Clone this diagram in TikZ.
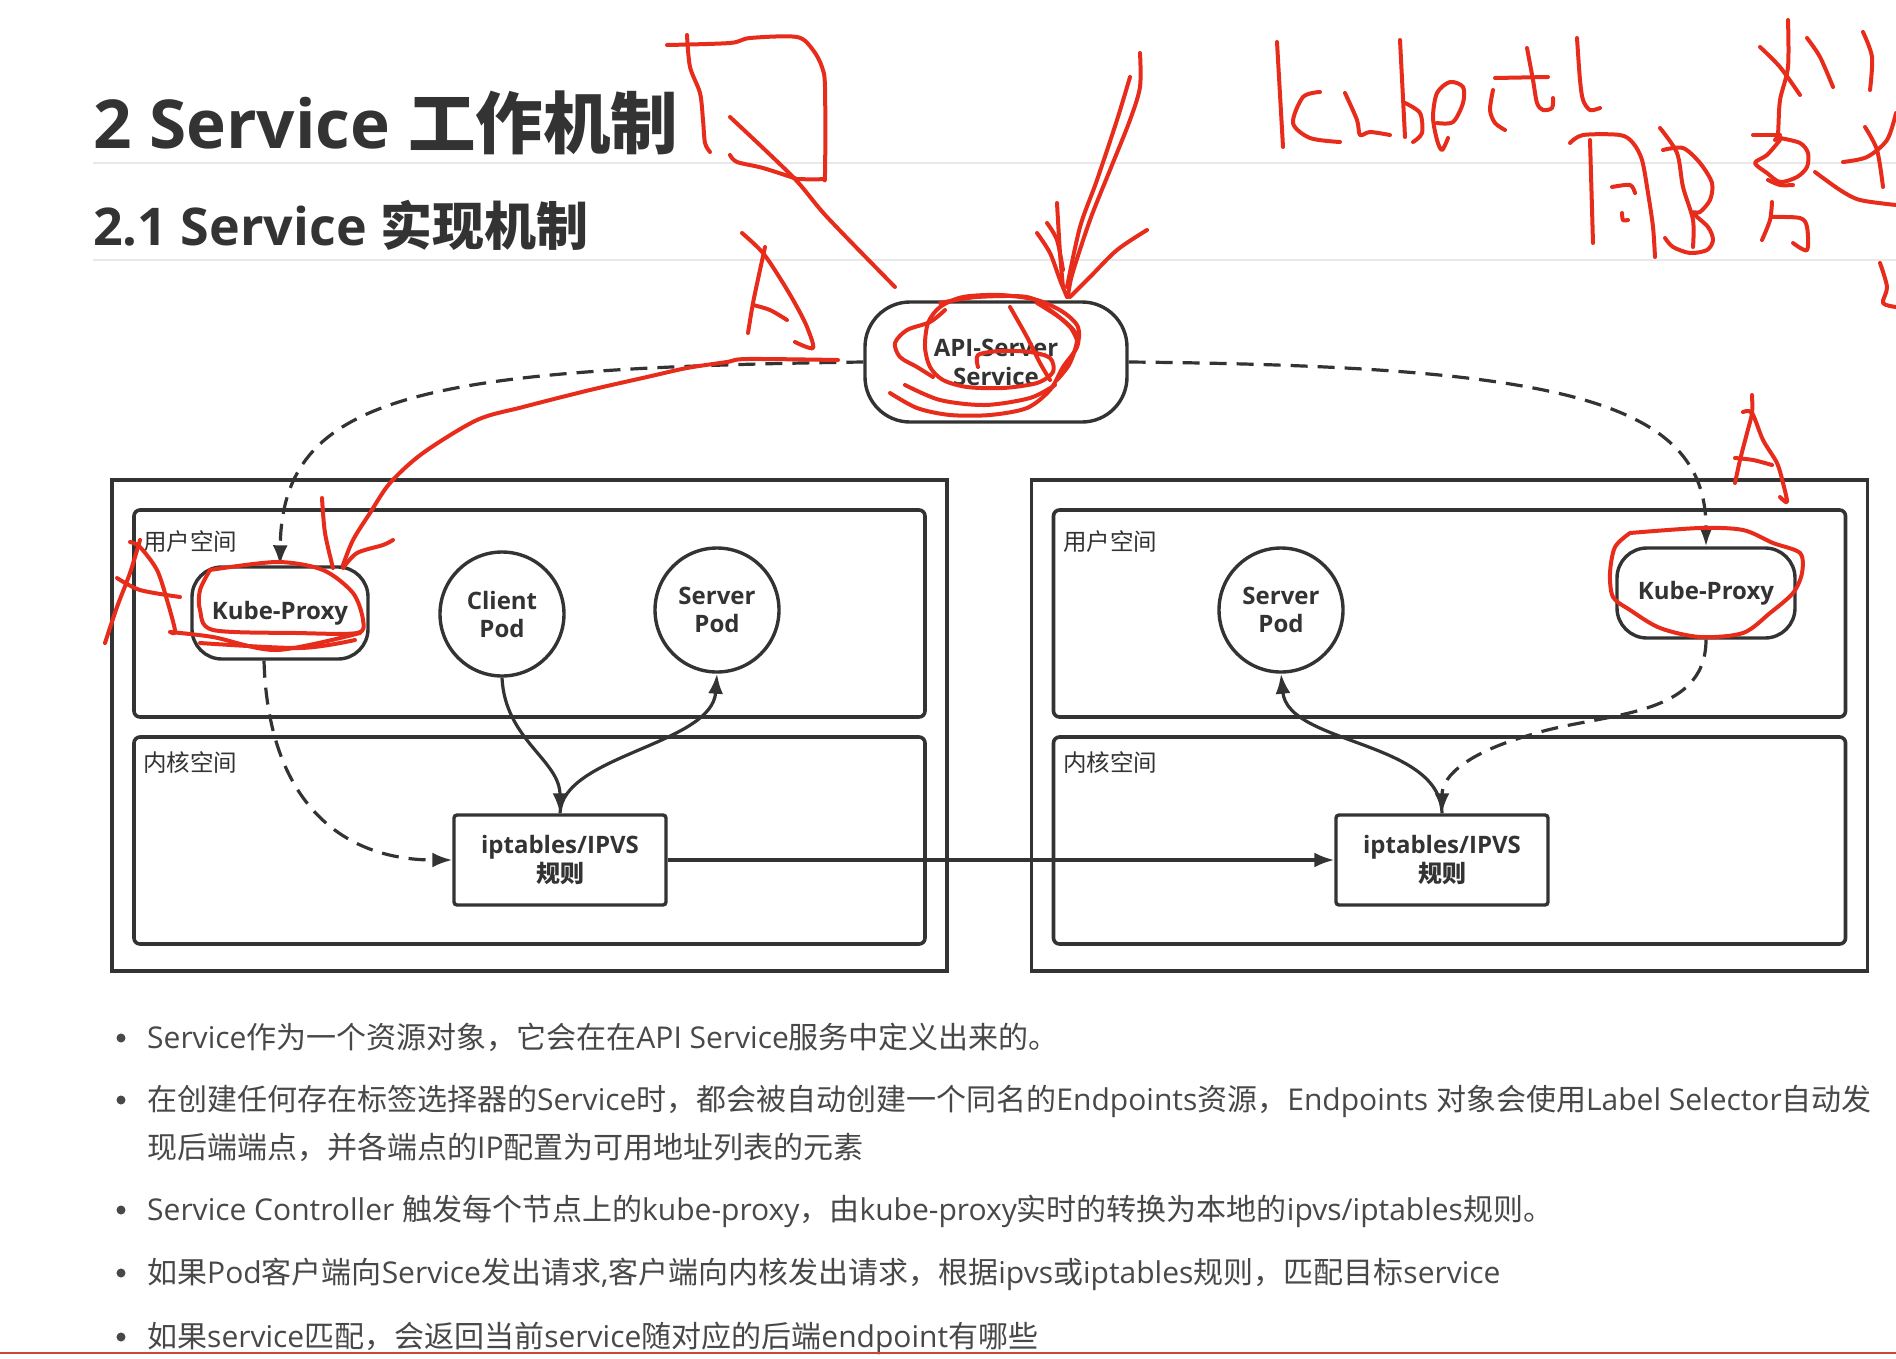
\documentclass[tikz,border=0pt]{standalone}
\usepackage{fontspec}
\setmainfont{Open Sans}
\newfontfamily\cjkfont{Noto Sans CJK SC}
\usetikzlibrary{arrows.meta}
\newcommand\zh[1]{{\cjkfont #1}}
\definecolor{inkred}{RGB}{232,44,28}
\definecolor{dk}{RGB}{51,51,51}
\definecolor{txt}{RGB}{72,72,72}
\definecolor{rule}{RGB}{232,232,232}
\definecolor{botline}{RGB}{200,70,60}
\tikzset{
  panel/.style={draw=dk, line width=3.6pt, inner sep=0pt, outer sep=0pt},
  pod/.style={circle, draw=dk, line width=3.4pt, minimum size=124pt, inner sep=0pt, align=center,
    font=\fontsize{24}{28}\selectfont\bfseries, text=dk},
  proc/.style={draw=dk, line width=3.4pt, align=center, inner sep=0pt,
    font=\fontsize{24}{29}\selectfont\bfseries, text=dk},
  rulebox/.style={draw=dk, line width=3.4pt, rounded corners=3pt, minimum width=212pt, minimum height=90pt,
    inner sep=0pt, align=center, font=\fontsize{24}{29}\selectfont\bfseries, text=dk},
  conn/.style={draw=dk, line width=3.2pt, -{Latex[length=20pt,width=15pt]}},
  dconn/.style={conn, dash pattern=on 17pt off 10pt},
  spacelbl/.style={font=\cjkfont\fontsize{23.5}{28}\selectfont, text=dk, anchor=west, inner sep=0pt},
  bullettext/.style={font=\fontsize{30}{36}\selectfont, text=txt, anchor=base west, inner sep=0pt},
  redink/.style={draw=inkred, line width=4pt, line cap=round, line join=round},
}
\newcommand\ink[1]{\draw[redink] plot[smooth, tension=0.5] coordinates {#1};}
\begin{document}
\begin{tikzpicture}[x=1pt,y=-1pt]
\useasboundingbox[fill=white] (0,0) rectangle (1896,1358);

% ---------- titles ----------
\node[anchor=base west, inner sep=0pt, text=dk, font=\fontsize{67.5}{80}\selectfont\bfseries] (t1) at (93,148) {2 Service \zh{工作机制}};
\draw[rule, line width=1.5pt] (93,163) -- (1896,163);
\node[anchor=base west, inner sep=0pt, text=dk, font=\fontsize{52}{62}\selectfont\bfseries] (t2) at (93,245) {2.1 Service \zh{实现机制}};
\draw[rule, line width=1.5pt] (93,260) -- (1896,260);

% ---------- panels ----------
\node[panel, minimum width=835pt, minimum height=491pt] (lout) at (529.5,725.5) {};
\node[panel, rounded corners=6pt, minimum width=791pt, minimum height=207pt] (luser) at (529.5,613.5) {};
\node[panel, rounded corners=6pt, minimum width=791pt, minimum height=207pt] (lkern) at (529.5,840.5) {};
\node[panel, minimum width=836pt, minimum height=491pt] (rout) at (1449.5,725.5) {};
\node[panel, rounded corners=6pt, minimum width=792pt, minimum height=207pt] (ruser) at (1449.5,613.5) {};
\node[panel, rounded corners=6pt, minimum width=792pt, minimum height=207pt] (rkern) at (1449.5,840.5) {};

\node[spacelbl] (lul) at (143,542) {用户空间};
\node[spacelbl] (lkl) at (143,763) {内核空间};
\node[spacelbl] (rul) at (1063,542) {用户空间};
\node[spacelbl] (rkl) at (1063,763) {内核空间};

% ---------- nodes ----------
\node[proc, rounded corners=45pt, minimum width=262pt, minimum height=120pt] (api) at (996,362) {API-Server\\Service};
\node[proc, rounded corners=30pt, minimum width=176pt, minimum height=92pt] (lkp) at (280,613) {Kube-Proxy};
\node[pod] (cp) at (502,614) {Client\\Pod};
\node[pod] (sp) at (717,610) {Server\\Pod};
\node[rulebox] (lip) at (560,860) {iptables/IPVS\\\zh{规则}};
\node[pod] (rsp) at (1281,610) {Server\\Pod};
\node[proc, rounded corners=30pt, minimum width=178pt, minimum height=90pt] (rkp) at (1706,593) {Kube-Proxy};
\node[rulebox] (rip) at (1442,860) {iptables/IPVS\\\zh{规则}};

% ---------- connectors ----------
\draw[dconn] (api.west) .. controls (420,368) and (282,395) .. (lkp.north);
\draw[dconn] (api.east) .. controls (1560,366) and (1706,400) .. (rkp.north);
\draw[dconn] ([xshift=-16pt]lkp.south) .. controls (268,800) and (340,860) .. (lip.west);
\draw[conn] (cp.south) .. controls (505,740) and (560,760) .. (lip.north);
\draw[conn] (lip.north) .. controls (562,755) and (712,745) .. (sp.south);
\draw[conn] (lip.east) -- (rip.west);
\draw[conn] (rip.north) .. controls (1440,740) and (1288,745) .. (rsp.south);
\draw[dconn] (rkp.south) .. controls (1706,720) and (1600,712) .. (1530,735) .. controls (1470,752) and (1442,775) .. (rip.north);

% ---------- bullets ----------
\foreach \yy in {1038,1100,1210,1273,1337} { \fill[txt] (121,\yy) circle (4.5pt); }
\node[bullettext] (b1) at (147,1048) {Service\zh{作为一个资源对象，它会在在}API Service\zh{服务中定义出来的。}};
\node[bullettext] (b2) at (147,1110) {\zh{在创建任何存在标签选择器的}Service\zh{时，都会被自动创建一个同名的}Endpoints\zh{资源，}Endpoints \zh{对象会使用}Label Selector\zh{自动发}};
\node[bullettext] (b2b) at (147,1158) {\zh{现后端端点，并各端点的}IP\zh{配置为可用地址列表的元素}};
\node[bullettext] (b3) at (147,1220) {Service Controller \zh{触发每个节点上的}kube-proxy\zh{，由}kube-proxy\zh{实时的转换为本地的}ipvs/iptables\zh{规则。}};
\node[bullettext] (b4) at (147,1283) {\zh{如果}Pod\zh{客户端向}Service\zh{发出请求}{,}\zh{客户端向内核发出请求，根据}ipvs\zh{或}iptables\zh{规则，匹配目标}service};
\node[bullettext] (b5) at (147,1347) {\zh{如果}service\zh{匹配，会返回当前}service\zh{随对应的后端}endpoint\zh{有哪些}};
\draw[botline, line width=2pt] (0,1353) -- (1896,1353);

% ---------- red handwriting ----------
% box and diagonal near title
\ink{(667,45) (730,43) (750,38) (797,37) (813,50) (822,67) (825,87) (825,173) (822,179) (797,179)}
\ink{(687,35) (690,67) (700,93) (703,120) (705,143) (710,152)}
\ink{(730,155) (737,162) (763,168) (797,179)}
\ink{(730,117) (793,177) (827,217) (895,287)}
% A near API
\ink{(748,333) (753,303) (760,270) (765,247)}
\ink{(742,233) (763,253) (783,283) (797,307) (807,327) (813,348) (795,342)}
\ink{(753,305) (770,310) (787,320)}
% arrow down into API
\ink{(1140,53) (1140,87) (1130,120) (1110,170) (1090,220) (1072,275) (1068,297)}
\ink{(1130,77) (1117,120) (1097,180) (1080,227) (1067,287)}
\ink{(1037,233) (1050,253) (1060,280) (1067,297)}
\ink{(1047,223) (1057,240) (1063,270)}
\ink{(1057,203) (1060,253) (1063,287)}
\ink{(1147,230) (1117,250) (1090,277) (1070,297)}
% scribble on API server
\ink{(890,393) (917,408) (950,415) (990,415) (1027,408) (1050,390) (1063,367) (1077,347) (1078,327) (1063,312) (1037,300) (1000,295) (963,297) (940,307) (928,323) (925,347) (930,367) (943,380) (967,387) (1003,388) (1037,383) (1053,372) (1050,358) (1030,352) (1000,351) (978,355) (978,367)}
\ink{(933,377) (917,367) (900,357) (895,343) (907,330) (930,322) (945,310)}
\ink{(1010,307) (1027,337) (1040,363) (1050,380)}
\ink{(1037,303) (1063,320) (1077,337) (1070,363) (1057,380)}
\ink{(940,303) (977,297) (1027,297) (1050,310) (1070,327) (1077,340)}
\ink{(905,385) (940,400) (985,405) (1030,398) (1055,385)}
% red curve to left kube-proxy
\ink{(838,360) (747,359) (727,362) (687,368) (647,377) (590,390) (523,407) (477,420) (423,453) (390,483) (370,513) (353,540) (343,565)}
\ink{(322,498) (325,533) (333,568)}
\ink{(393,540) (383,545) (357,553) (343,568)}
% circle around left kube-proxy
\ink{(210,570) (277,562) (323,570) (353,593) (363,620) (357,633) (297,633) (213,630) (200,610) (200,590) (210,570)}
\ink{(170,632) (213,637) (277,650) (360,633)}
\ink{(200,643) (300,648) (355,640)}
% left A
\ink{(105,643) (117,607) (130,573) (140,540)}
\ink{(130,542) (140,547) (157,570) (167,600) (175,630) (172,633)}
\ink{(117,578) (140,590) (180,597)}
% right A and circle around right kube-proxy
\ink{(1735,483) (1740,460) (1747,433) (1752,413) (1752,395)}
\ink{(1743,412) (1752,413) (1763,440) (1777,463) (1783,483) (1787,502) (1780,497)}
\ink{(1735,458) (1753,460) (1772,465)}
\ink{(1630,533) (1700,528) (1743,530) (1773,543) (1800,553) (1802,573) (1793,593) (1770,613) (1743,633) (1700,637) (1660,628) (1630,610) (1613,597) (1610,573) (1615,547) (1630,533)}
% kubectl
\ink{(1277,42) (1283,147)}
\ink{(1320,92) (1303,97) (1293,123) (1310,138) (1340,142)}
\ink{(1345,93) (1357,120) (1360,135) (1370,132) (1390,135)}
\ink{(1400,40) (1405,137)}
\ink{(1405,103) (1420,113) (1422,133) (1413,142)}
\ink{(1437,123) (1453,122) (1463,103) (1463,87) (1450,82) (1437,93) (1433,117) (1437,140) (1442,150) (1448,138)}
\ink{(1493,90) (1490,110) (1495,123) (1505,130)}
\ink{(1527,48) (1533,80) (1537,103) (1543,110) (1552,108) (1553,98)}
\ink{(1495,78) (1548,77)}
\ink{(1577,38) (1580,80) (1583,100) (1590,110) (1600,108)}
% handwritten characters
\ink{(1570,143) (1583,135) (1620,135) (1633,143) (1642,160) (1648,193) (1653,227) (1655,257)}
\ink{(1590,140) (1593,243)}
\ink{(1612,187) (1630,185) (1635,193)}
\ink{(1622,213) (1623,220) (1628,220)}
\ink{(1660,128) (1677,153) (1683,187) (1693,220) (1693,247)}
\ink{(1663,150) (1683,148) (1700,163) (1712,183) (1710,200) (1700,212) (1693,213) (1708,227) (1713,240) (1707,250) (1690,253) (1673,247) (1665,238)}
\ink{(1788,20) (1788,67) (1780,100) (1778,133) (1775,140)}
\ink{(1760,47) (1780,67) (1800,95)}
\ink{(1807,38) (1820,57) (1833,87)}
\ink{(1753,135) (1780,135)}
\ink{(1780,138) (1800,143) (1808,153) (1807,167) (1797,177) (1780,182) (1767,173) (1755,163) (1767,155) (1780,140)}
\ink{(1768,180) (1780,185) (1793,185)}
\ink{(1772,202) (1770,220) (1762,240)}
\ink{(1772,217) (1800,218) (1807,227) (1807,250) (1793,243)}
\ink{(1863,32) (1872,57) (1870,90)}
\ink{(1865,127) (1877,150) (1883,187)}
\ink{(1843,162) (1867,157) (1887,140) (1896,113)}
\ink{(1815,172) (1840,190) (1860,200) (1896,205)}
\ink{(1880,263) (1887,287) (1883,303) (1896,307)}
\end{tikzpicture}
\end{document}
